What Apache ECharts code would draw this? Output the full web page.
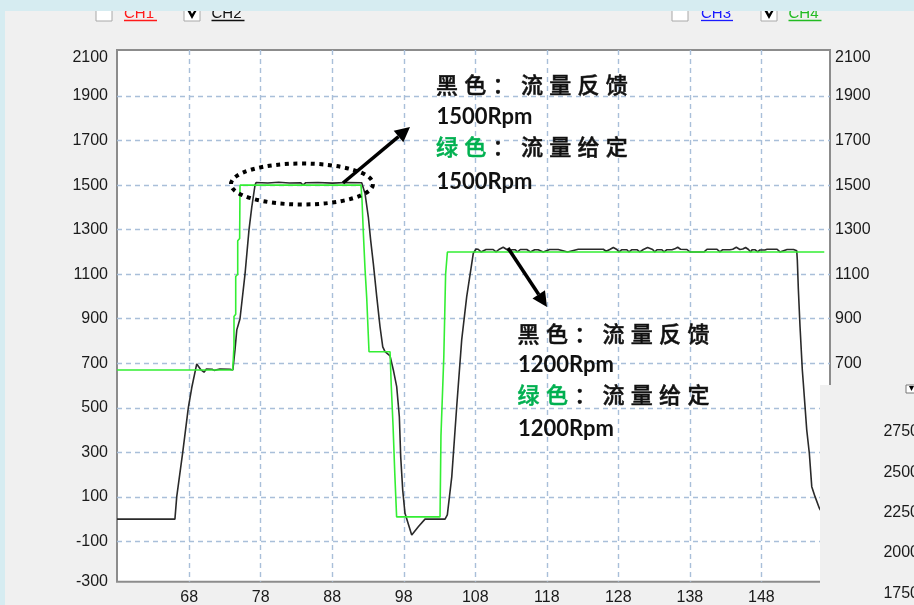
<!DOCTYPE html>
<html>
<head>
<meta charset="utf-8">
<script src="https://cdn.jsdelivr.net/npm/echarts@6.0.0/dist/echarts.min.js"></script>
<style>
  html, body { margin: 0; padding: 0; background: #f0f0f0; }
  #chart { width: 914px; height: 605px; }
</style>
</head>
<body>
<div id="chart"></div>
<script>
// Sample axis (horizontal)
const X_MIN = 57.9, X_MAX = 157.6;
const X_TICKS = [68, 78, 88, 98, 108, 118, 128, 138, 148];

// Speed axis (Rpm); the outermost labels sit on the frame edges
const Y_MIN = -281, Y_MAX = 2107;
const Y_GRID = [-100, 100, 300, 500, 700, 900, 1100, 1300, 1500, 1700, 1900];
const Y_LABELS = ['-300', '-100', '100', '300', '500', '700', '900', '1100', '1300', '1500', '1700', '1900', '2100'];

// CH4 – flow setpoint [sample, rpm]
const SETPOINT = [
  [57.9, 670], [74.08, 670], [74.26, 780], [74.26, 910], [74.5, 920], [74.5, 1090],
  [74.78, 1100], [74.78, 1250], [75.05, 1260], [75.1, 1500],
  [92.02, 1500], [92.16, 1433], [92.34, 1290], [92.58, 1125], [92.82, 992], [93.14, 752],
  [96.08, 752], [96.25, 600], [96.5, 420], [96.75, 200], [97.0, 10],
  [103.07, 10], [103.2, 375], [103.6, 730], [103.85, 1100], [104.1, 1200],
  [156.8, 1200]
];

// CH2 – flow feedback [sample, rpm]
const FEEDBACK = [
  [57.9, 0], [66.0, 0], [66.25, 100], [67.09, 300], [67.87, 500], [68.35, 590], [69.05, 697],
  [69.6, 672], [70.07, 660], [70.4, 674], [71.2, 673], [71.5, 668], [72.3, 674], [73.7, 673], [74.1, 670],
  [74.4, 760], [74.65, 850], [75.1, 900], [75.8, 1100], [76.36, 1300], [76.74, 1400], [77.2, 1500], [77.35, 1512],
  [79.0, 1510], [80.5, 1513], [82.0, 1510], [83.6, 1511], [83.9, 1500], [84.3, 1511], [86.0, 1512],
  [88.0, 1509], [90.0, 1512], [92.12, 1511],
  [92.58, 1463], [93.04, 1358], [93.38, 1250], [93.74, 1149], [94.22, 999], [94.68, 864], [95.06, 774],
  [95.38, 752], [96.08, 733], [96.54, 670], [97.01, 595], [97.38, 460], [97.57, 280], [97.85, 131],
  [98.17, 26], [99.11, -71], [100.03, -34], [100.97, 0], [103.77, 0], [104.09, 19], [104.71, 190],
  [105.4, 505], [106.1, 805], [106.8, 999], [107.72, 1194], [108.1, 1213],
  [108.4, 1212], [108.8, 1200], [109.5, 1211], [110.5, 1211], [110.9, 1200], [111.3, 1211], [111.9, 1221],
  [112.4, 1211], [112.8, 1200], [113.1, 1210], [113.6, 1210], [113.9, 1200], [114.3, 1211], [115.2, 1211],
  [115.7, 1200], [116.3, 1210], [116.8, 1210], [117.5, 1200], [118.4, 1211], [119.6, 1211], [120.9, 1200],
  [122.4, 1212], [125.9, 1212], [126.3, 1203], [126.8, 1211], [127.3, 1220], [127.8, 1211], [128.1, 1200],
  [128.5, 1210], [129.2, 1210], [129.5, 1200], [129.9, 1210], [130.6, 1210], [131.0, 1200], [131.5, 1211],
  [132.1, 1220], [132.8, 1211], [133.1, 1200], [133.4, 1210], [134.1, 1210], [134.4, 1200], [134.8, 1210],
  [135.5, 1210], [135.9, 1214], [136.3, 1221], [136.7, 1212], [137.6, 1211], [138.0, 1200], [140.0, 1200],
  [140.4, 1212], [141.8, 1212], [142.2, 1200], [142.6, 1210], [143.6, 1210], [144.0, 1212], [144.5, 1221],
  [145.0, 1211], [145.4, 1213], [145.8, 1220], [146.2, 1211], [146.5, 1200], [146.7, 1210], [147.1, 1210],
  [147.5, 1200], [147.8, 1209], [148.5, 1209], [148.8, 1212], [150.2, 1212], [150.6, 1200], [151.6, 1211],
  [152.5, 1211], [152.95, 1205],
  [153.03, 1164], [153.17, 1036], [153.41, 864], [153.73, 670], [153.87, 610], [154.35, 400], [154.71, 296],
  [155.05, 146], [155.51, 101], [156.11, 49], [156.8, 10], [157.6, 0]
];

// Scale of the neighbouring window peeking in at the lower right
const SIDE_TICKS_MIN = 1750, SIDE_TICKS_MAX = 2750, SIDE_TICKS_STEP = 250;

// Channel selector labels along the top
const CHANNELS = [
  { name: 'CH1', color: '#ff1a1a', checked: false, box: 96, text: 124, w: 33 },
  { name: 'CH2', color: '#111111', checked: true, box: 184, text: 211.5, w: 33 },
  { name: 'CH3', color: '#1a1aff', checked: false, box: 672, text: 701, w: 32 },
  { name: 'CH4', color: '#22bb22', checked: true, box: 761, text: 788.5, w: 33 }
];

const yLabelAt = [Y_MIN].concat(Y_GRID, [Y_MAX]);
const yLabelText = v => {
  const i = yLabelAt.indexOf(v);
  return i >= 0 ? Y_LABELS[i] : String(v);
};

const AXIS_FONT = { fontFamily: '"Liberation Sans", Arial, sans-serif', fontSize: 16, color: '#1a1a1a' };
const CJK = '"Noto Sans CJK SC", sans-serif';

function spacedText(str, x0, y, step, colors, size) {
  const out = [];
  for (let i = 0; i < str.length; i++) {
    out.push({
      type: 'text', x: x0 + i * step, y: y, z: 20,
      style: {
        text: str[i], fill: (colors && colors[i]) || '#111',
        font: 'normal 500 ' + size + 'px ' + CJK,
        stroke: (colors && colors[i]) || '#111', lineWidth: 0.5,
        align: 'left', verticalAlign: 'middle', textAlign: 'left', textVerticalAlign: 'middle'
      }
    });
  }
  return out;
}

function boldText(str, x, y) {
  return {
    type: 'text', x: x, y: y, z: 20,
    style: {
      text: str, fill: '#111', font: 'bold 22px Lato, "Open Sans", sans-serif',
      align: 'left', verticalAlign: 'middle', textAlign: 'left', textVerticalAlign: 'middle'
    }
  };
}

function arrow(x1, y1, x2, y2) {
  const a = Math.atan2(y2 - y1, x2 - x1), L = 15, W = 7.5;
  const bx = x2 - L * Math.cos(a), by = y2 - L * Math.sin(a);
  return [
    { type: 'line', z: 20, shape: { x1: x1, y1: y1, x2: bx, y2: by }, style: { stroke: '#000', lineWidth: 3.5 } },
    { type: 'polygon', z: 20, shape: { points: [[x2, y2], [bx + W * Math.sin(a), by - W * Math.cos(a)], [bx - W * Math.sin(a), by + W * Math.cos(a)]] }, style: { fill: '#000' } }
  ];
}

const GREEN = '#00b050';
const greenPair = [GREEN, GREEN];

let graphics = [];
// annotation: ellipse around the 1500 Rpm plateau
graphics.push({
  type: 'ellipse', z: 20,
  shape: { cx: 302, cy: 184, rx: 71, ry: 20.5 },
  style: { fill: 'none', stroke: '#000', lineWidth: 4, lineDash: [4, 4.6], lineCap: 'butt' }
});
graphics = graphics.concat(arrow(343, 183, 410, 127));
graphics = graphics.concat(arrow(508, 248, 547, 307));

// text block for the 1500 Rpm step
graphics = graphics.concat(spacedText('黑色：流量反馈', 436, 85, 28.3, null, 22));
graphics.push(boldText('1500Rpm', 436.5, 117));
graphics = graphics.concat(spacedText('绿色：流量给定', 436, 146.3, 28.3, greenPair, 22));
graphics.push(boldText('1500Rpm', 436.5, 182));

// text block for the 1200 Rpm step
graphics = graphics.concat(spacedText('黑色：流量反馈', 517.6, 333.8, 28.3, null, 22));
graphics.push(boldText('1200Rpm', 518, 364.5));
graphics = graphics.concat(spacedText('绿色：流量给定', 517.6, 394.8, 28.3, greenPair, 22));
graphics.push(boldText('1200Rpm', 518, 429));

// channel selector row
CHANNELS.forEach(ch => {
  graphics.push({ type: 'rect', z: 30, shape: { x: ch.box, y: 5, width: 16, height: 16 },
    style: { fill: '#fff', stroke: '#a8a8a8', lineWidth: 1 } });
  if (ch.checked) {
    graphics.push({ type: 'polygon', z: 31,
      shape: { points: [[ch.box + 3, 10], [ch.box + 6, 10], [ch.box + 8, 14], [ch.box + 12, 8], [ch.box + 13, 10], [ch.box + 8, 19]] },
      style: { fill: '#000' } });
  }
  graphics.push({ type: 'text', x: ch.text, y: 13.5, z: 30,
    style: { text: ch.name, fill: ch.color, font: '15px "Liberation Sans", Arial, sans-serif',
      align: 'left', verticalAlign: 'middle', textAlign: 'left', textVerticalAlign: 'middle' } });
  graphics.push({ type: 'line', z: 30, shape: { x1: ch.text, y1: 20.5, x2: ch.text + ch.w, y2: 20.5 },
    style: { stroke: ch.color, lineWidth: 1.3 } });
});

// window chrome: title band, left edge, overlapping window
graphics.push({ type: 'rect', z: 100, shape: { x: 0, y: 0, width: 914, height: 11 }, style: { fill: '#d6ecf1' } });
graphics.push({ type: 'rect', z: 100, shape: { x: 0, y: 0, width: 5, height: 605 }, style: { fill: '#d6ecf1' } });
graphics.push({ type: 'rect', z: 50, shape: { x: 820, y: 385, width: 94, height: 220 }, style: { fill: '#f0f0f0' } });
graphics.push({ type: 'rect', z: 55, shape: { x: 906, y: 385, width: 12, height: 8 }, style: { fill: '#fff', stroke: '#777', lineWidth: 1 } });
graphics.push({ type: 'polygon', z: 56, shape: { points: [[909, 386], [914, 386], [911.5, 391]] }, style: { fill: '#000' } });

const chart = echarts.init(document.getElementById('chart'), null, { renderer: 'canvas' });
chart.setOption({
  animation: false,
  backgroundColor: '#f0f0f0',
  grid: [
    { left: 117, top: 50, width: 713, height: 531.7, show: true, backgroundColor: '#ffffff',
      borderColor: '#8c8c8c', borderWidth: 2, containLabel: false, outerBoundsMode: 'none' },
    { left: 927, top: 431.7, width: 100, height: 161.6, show: false, containLabel: false, outerBoundsMode: 'none' }
  ],
  xAxis: [
    {
      type: 'value', gridIndex: 0, min: X_MIN, max: X_MAX,
      axisLine: { show: false }, axisTick: { show: false, customValues: X_TICKS },
      axisLabel: Object.assign({ customValues: X_TICKS, margin: 8 }, AXIS_FONT),
      splitLine: { show: true, lineStyle: { color: '#a9bfd9', type: [5, 4], width: 1.4 } }
    },
    { type: 'value', gridIndex: 1, min: 0, max: 1, show: false }
  ],
  yAxis: [
    {
      type: 'value', gridIndex: 0, position: 'left', min: Y_MIN, max: Y_MAX,
      axisLine: { show: false }, axisTick: { show: false, customValues: yLabelAt },
      axisLabel: Object.assign({ customValues: yLabelAt, margin: 9, formatter: yLabelText,
        verticalAlignMaxLabel: 'top' }, AXIS_FONT),
      splitLine: { show: true, showMinLine: false, showMaxLine: false,
        lineStyle: { color: '#a9bfd9', type: [5, 4], width: 1.4 } }
    },
    {
      type: 'value', gridIndex: 0, position: 'right', min: Y_MIN, max: Y_MAX,
      axisLine: { show: false }, axisTick: { show: false, customValues: yLabelAt },
      axisLabel: Object.assign({ customValues: yLabelAt, margin: 5, formatter: yLabelText,
        verticalAlignMaxLabel: 'top' }, AXIS_FONT),
      splitLine: { show: false }
    },
    {
      type: 'value', gridIndex: 1, position: 'left', z: 60,
      min: SIDE_TICKS_MIN, max: SIDE_TICKS_MAX, interval: SIDE_TICKS_STEP,
      axisLine: { show: false }, axisTick: { show: false }, splitLine: { show: false },
      axisLabel: Object.assign({ margin: 8, formatter: v => String(v) }, AXIS_FONT)
    }
  ],
  series: [
    {
      name: 'CH2', type: 'line', xAxisIndex: 0, yAxisIndex: 0, data: FEEDBACK,
      symbol: 'none', showSymbol: false, z: 2,
      lineStyle: { color: '#2a2a2a', width: 1.6 }
    },
    {
      name: 'CH4', type: 'line', xAxisIndex: 0, yAxisIndex: 0, data: SETPOINT,
      symbol: 'none', showSymbol: false, z: 3,
      lineStyle: { color: '#33ee33', width: 1.6 }
    }
  ],
  graphic: { elements: graphics }
});
</script>
</body>
</html>
